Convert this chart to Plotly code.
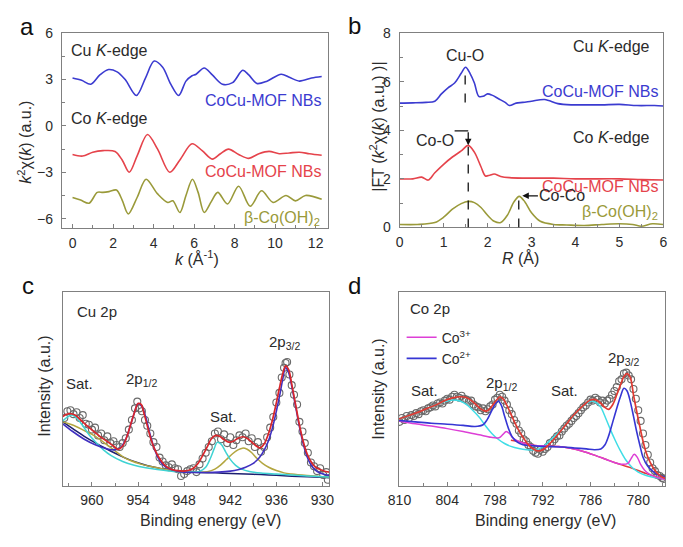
import plotly.graph_objects as go

W, H = 683, 547
FONT = "Arial, 'Liberation Sans', sans-serif"
TXT = "#2b2b2b"

# ---------------- Panel a : k^2 chi(k) ----------------
k_cu = [0, 0.45, 0.9, 1.35, 1.78, 2.2, 2.6, 3.15, 3.6, 4.03, 4.45, 4.85, 5.24, 5.6, 5.9, 6.1, 6.5, 6.9, 7.4, 7.9,
        8.4, 8.7, 9.1, 9.6, 10.3, 10.7, 11.2, 11.8, 12.3]
chi_cu = [3.1, 2.95, 2.7, 3.3, 3.65, 3.5, 3.0, 1.97, 3.1, 4.2, 3.8, 2.7, 1.97, 2.9, 3.25, 3.35, 3.75, 3.3, 2.7, 2.8,
          3.6, 3.3, 2.75, 2.9, 3.35, 3.15, 2.9, 3.1, 3.2]
k_co = [0, 0.5, 1.0, 1.5, 2.1, 2.45, 2.8, 3.2, 3.7, 4.2, 4.8, 5.3, 5.9, 6.4, 6.9, 7.3, 7.7, 8.2, 8.7, 9.2, 9.7,
        10.2, 10.7, 11.2, 11.7, 12.3]
chi_co = [-1.85, -1.95, -1.7, -1.6, -1.65, -2.2, -3.0, -1.9, -0.55, -1.5, -3.0, -2.2, -1.15, -1.6, -2.15, -1.8,
          -1.5, -1.85, -2.1, -1.8, -1.65, -1.8, -1.75, -1.7, -1.8, -1.9]
k_oh = [0, 0.4, 0.82, 1.22, 1.5, 1.8, 2.17, 2.45, 2.75, 3.2, 3.63, 4.2, 4.7, 4.95, 5.3, 5.6, 5.92, 6.2, 6.5, 6.85,
        7.17, 7.65, 8.2, 8.77, 9.33, 9.9, 10.54, 11.0, 11.5, 12.3]
chi_oh = [-4.63, -4.8, -5.0, -4.3, -4.3, -4.25, -4.15, -4.8, -5.7, -4.6, -3.45, -4.4, -4.95, -4.85, -5.6, -4.5,
          -3.45, -4.3, -5.6, -4.9, -4.3, -5.05, -3.9, -5.2, -4.2, -4.95, -4.5, -4.85, -4.5, -4.75]

# ---------------- Panel b : |FT| ----------------
r_cu = [0, 0.3, 0.6, 0.8, 0.95, 1.1, 1.25, 1.4, 1.5, 1.6, 1.7, 1.8, 1.9, 2.0, 2.1, 2.25, 2.4, 2.5, 2.65, 2.8,
        3.0, 3.3, 3.6, 3.9, 4.2, 4.6, 5.0, 5.4, 5.8, 6.0]
ft_cu = [5.12, 5.13, 5.15, 5.2, 5.5, 5.75, 5.95, 6.35, 6.6, 6.35, 5.95, 5.4, 5.4, 5.5, 5.45, 5.3, 5.15, 5.02,
         5.12, 5.15, 5.2, 5.27, 5.1, 5.05, 5.05, 5.05, 5.07, 5.02, 5.02, 5.0]
r_co = [0, 0.3, 0.5, 0.65, 0.8, 1.0, 1.2, 1.4, 1.56, 1.7, 1.85, 1.95, 2.05, 2.15, 2.3, 2.5, 2.8, 3.5, 4.0, 5.0,
        5.5, 6.0]
ft_co = [2.0, 2.0, 2.07, 1.95, 2.25, 2.6, 2.9, 3.15, 3.38, 3.1, 2.5, 2.12, 2.15, 2.2, 2.1, 2.05, 2.03, 2.03, 2.0,
         2.0, 1.97, 1.95]
r_oh = [0, 0.4, 0.8, 1.0, 1.2, 1.4, 1.56, 1.7, 1.85, 2.0, 2.15, 2.3, 2.45, 2.6, 2.72, 2.85, 3.0, 3.2, 3.5, 3.8,
        4.2, 4.6, 5.0, 5.3, 5.5, 5.75, 6.0]
ft_oh = [0.12, 0.12, 0.2, 0.42, 0.75, 0.98, 1.07, 1.02, 0.82, 0.5, 0.25, 0.2, 0.5, 1.05, 1.28, 1.05, 0.6, 0.25,
         0.12, 0.1, 0.08, 0.12, 0.15, 0.12, 0.05, 0.15, 0.12]
peak_r = [1.49, 1.56, 2.71]
peak_top = [6.55, 3.32, 1.2]
peak_bottom = [5.15, 0.0, 0.0]

# ---------------- Panel c : Cu 2p XPS ----------------
c_data_e = [963.6, 963.2, 962.8, 962.4, 962.0, 961.6, 961.2, 960.8, 960.4, 960.0, 959.6, 959.2, 958.8, 958.4,
            958.0, 957.6, 957.2, 956.8, 956.4, 956.0, 955.6, 955.2, 954.8, 954.4, 954.1, 953.8, 953.5, 953.1,
            952.8, 952.4, 952.0, 951.6, 951.2, 950.8, 950.4, 950.0, 949.6, 949.2, 948.8, 948.4, 948.0, 947.6,
            947.2, 946.8, 946.4, 946.0, 945.6, 945.2, 944.8, 944.4, 944.0, 943.6, 943.2, 942.8, 942.4, 942.0,
            941.6, 941.2, 940.8, 940.4, 940.0, 939.6, 939.2, 938.8, 938.4, 938.0, 937.6, 937.2, 936.8, 936.4,
            936.0, 935.6, 935.3, 935.0, 934.8, 934.6, 934.3, 934.0, 933.7, 933.3, 933.0, 932.6, 932.3, 931.9,
            931.5, 931.1, 930.7, 930.3, 929.9, 929.5, 929.3]
c_data_i = [35, 38.5, 39, 37, 38, 35, 36.5, 32, 31.5, 29, 30, 26, 27, 23.5, 25.5, 22, 23, 21, 20, 22, 24.5, 29,
            34, 40, 43.5, 40, 38.5, 34, 31, 27, 22.5, 20, 14.5, 12.5, 10.5, 9.5, 11, 9, 8.5, 5, 6, 7.5, 8.5, 9,
            7, 11, 14, 17, 20, 23, 27, 28, 24, 26.5, 22, 25, 21, 23.5, 26, 25, 27, 23, 24.5, 20, 22.5, 17.5, 20,
            25, 30, 35.5, 43, 48, 56, 61, 63.5, 64, 57.5, 52, 47, 42, 33, 28, 22, 17, 12, 10, 7.5, 9, 5.5, 7, 3]
c_env_e = [963.8, 963.1, 962.2, 961.4, 960.5, 959.7, 958.8, 958.0, 957.2, 956.6, 956.0, 955.4, 954.9, 954.5,
           954.0, 953.6, 953.2, 952.7, 952.3, 951.8, 951.2, 950.5, 949.7, 948.5, 947.5, 946.8, 946.2, 945.6,
           945.0, 944.5, 943.9, 943.4, 942.8, 942.2, 941.6, 941.0, 940.4, 939.8, 939.2, 938.6, 938.1, 937.6,
           937.1, 936.6, 936.1, 935.6, 935.2, 934.8, 934.4, 934.0, 933.5, 933.0, 932.5, 932.0, 931.5, 931.0,
           930.3, 929.6, 929.1]
c_env_i = [35.8, 37.2, 36.5, 33.7, 30.5, 27.8, 25.0, 22.8, 20.5, 18.8, 20.5, 26.0, 32.5, 37.5, 42.5, 42.0, 37.0,
           29.5, 23.7, 18.5, 14.0, 10.5, 8.5, 7.6, 7.8, 9.0, 11.5, 15.5, 20.0, 24.0, 26.0, 25.5, 23.8, 22.5, 23.0,
           24.5, 25.3, 24.5, 22.5, 20.5, 19.5, 21.5, 26.0, 32.5, 41.0, 50.5, 57.5, 62.0, 60.0, 52.5, 42.0, 31.5,
           22.8, 16.5, 12.5, 10.0, 8.3, 7.3, 7.0]
c_2p_e = [963.8, 962.5, 961, 959.5, 958.0, 957.0, 956.3, 955.6, 955.0, 954.5, 954.0, 953.5, 953.0, 952.5, 952.0,
          951.4, 950.8, 950.0, 949.0, 948.0, 946.5, 945.0, 943.5, 942.0, 941.0, 940.0, 939.0, 938.2, 937.5,
          937.0, 936.5, 936.0, 935.5, 935.2, 934.8, 934.4, 934.0, 933.5, 933.0, 932.5, 932.0, 931.5, 931.0,
          930.3, 929.6, 929.1]
c_2p_i = [32, 28, 24, 21, 19, 18.5, 19.5, 24, 31, 37.5, 42.5, 41.0, 35.5, 27.5, 20.5, 14.5, 11.0, 8.8, 7.6, 7.0,
          6.8, 6.8, 7.0, 7.5, 8.2, 9.5, 11.5, 14.5, 19.0, 23.5, 30.0, 38.5, 48.0, 54.5, 61.0, 58.5, 51.5, 41.0,
          30.5, 21.5, 15.0, 10.8, 8.3, 6.5, 5.6, 5.2]
c_bg_e = [963.8, 962.5, 961, 959.5, 958, 956.5, 955, 953.5, 952, 950.5, 949, 947.5, 946, 944, 942, 940, 938, 936,
          934, 932, 930, 929.1]
c_bg_i = [33, 29.5, 25.5, 22, 18.8, 15.8, 13.2, 11.2, 9.6, 8.4, 7.6, 7.1, 6.8, 6.6, 6.3, 6.0, 5.7, 5.3, 4.9, 4.6,
          4.3, 4.1]
c_sat1_e = [963.8, 963.2, 962.6, 962.0, 961.2, 960.4, 959.5, 958.5, 957.5, 956, 954.5, 953, 951.5, 950, 948.5,
            947, 946, 945.2, 944.6, 944.1, 943.7, 943.2, 942.6, 942.0, 941.3, 940.5, 939.5, 938, 936, 934, 932,
            930, 929.1]
c_sat1_i = [33.5, 35.5, 36.5, 35, 31, 26.5, 22.5, 18.5, 15.5, 12.5, 10.5, 9.2, 8.3, 7.6, 7.2, 7.0, 7.3, 9.5, 14,
            19, 22.4, 21.5, 17.5, 13.6, 10.5, 8.5, 7.3, 6.5, 6.0, 5.5, 5.0, 4.6, 4.5]
c_sat2_e = [963.8, 963, 962, 961, 960, 959, 958, 957, 956, 955, 953.5, 952, 950.5, 949, 947.5, 946, 945, 944,
            943.3, 942.5, 941.7, 941, 940.4, 939.8, 939.2, 938.5, 937.8, 937, 936, 935, 934, 932, 930, 929.1]
c_sat2_i = [33, 32, 30.5, 28.5, 26.5, 24.0, 21.0, 18.0, 15.0, 13.0, 11.0, 9.6, 8.4, 7.6, 7.1, 6.9, 7.2, 8.5,
            10.5, 13.5, 16.5, 18.5, 19.4, 18.8, 17, 14, 11.5, 9.5, 7.8, 6.6, 6.0, 5.2, 4.6, 4.4]

# ---------------- Panel d : Co 2p XPS ----------------
d_data_e = [810.0, 809.7, 809.4, 809.1, 808.8, 808.5, 808.2, 807.9, 807.6, 807.3, 807.0, 806.7, 806.4, 806.1,
            805.8, 805.5, 805.2, 804.9, 804.6, 804.3, 804.0, 803.7, 803.4, 803.1, 802.8, 802.5, 802.2, 801.9,
            801.6, 801.3, 801.0, 800.7, 800.4, 800.1, 799.8, 799.5, 799.2, 798.9, 798.6, 798.3, 798.0, 797.7,
            797.4, 797.1, 796.8, 796.5, 796.2, 795.9, 795.6, 795.3, 795.0, 794.7, 794.4, 794.1, 793.8, 793.5,
            793.2, 792.9, 792.6, 792.3, 792.0, 791.7, 791.4, 791.1, 790.8, 790.5, 790.2, 789.9, 789.6, 789.3,
            789.0, 788.7, 788.4, 788.1, 787.8, 787.5, 787.2, 786.9, 786.6, 786.3, 786.0, 785.7, 785.4, 785.1,
            784.8, 784.5, 784.2, 783.9, 783.6, 783.3, 783.0, 782.7, 782.4, 782.1, 781.8, 781.5, 781.2, 780.9,
            780.6, 780.3, 780.0, 779.7, 779.4, 779.1, 778.8, 778.5, 778.2, 777.9, 777.6, 777.3, 777.0, 776.8]
d_data_i = [33, 35, 34, 36, 35, 36.5, 36, 37.5, 37, 38.5, 39, 38.5, 40, 40.5, 41.5, 41, 42.5, 43, 42.5, 44, 45,
            44.5, 46, 47, 46, 45.5, 46.5, 45, 44.5, 43.5, 44, 42, 41, 40.5, 39, 40, 38.5, 39.5, 41, 42, 44.5,
            45.5, 47, 46, 44, 42, 39, 37, 34, 32, 28.5, 27, 24, 23, 21, 20, 18, 17, 16.5, 18.5, 17.5, 19, 20, 22,
            22.5, 24, 25.5, 26, 28, 29.5, 31, 32, 33.5, 35, 36, 37.5, 39, 40.5, 41.5, 43, 44.5, 44, 45.5, 44.5,
            43, 44, 42.5, 44, 45, 47, 49, 51, 54, 55, 58, 58.5, 57, 55, 50, 45, 39, 33.5, 27, 21, 16, 12, 9, 7.5,
            5.5, 5, 4, 3.5]
d_env_e = [810.1, 809, 807.8, 806.5, 805.3, 804.3, 803.3, 802.4, 801.6, 800.8, 800.0, 799.4, 799.0, 798.5, 797.9,
           797.4, 797.0, 796.5, 796.0, 795.5, 795.0, 794.4, 793.8, 793.2, 792.6, 792.0, 791.4, 790.6, 789.8,
           789.0, 788.2, 787.4, 786.6, 786.0, 785.4, 784.8, 784.2, 783.7, 783.2, 782.7, 782.2, 781.8, 781.4,
           781.0, 780.6, 780.2, 779.8, 779.4, 779.0, 778.5, 778.0, 777.5, 777.0, 776.6]
d_env_i = [34.5, 36.0, 37.8, 40.0, 42.0, 44.0, 45.4, 46.0, 45.6, 43.5, 40.4, 38.8, 38.7, 40.5, 43.8, 46.0, 45.0,
           41.5, 37.0, 32.5, 28.5, 24.5, 21.1, 19.0, 18.0, 18.5, 20.5, 24.0, 28.0, 32.0, 36.0, 39.5, 42.5, 44.3,
           44.5, 43.0, 40.5, 39.5, 42.0, 47.0, 52.5, 56.5, 58.0, 56.0, 47.0, 38.5, 30.5, 23.0, 17.0, 12.0, 8.5,
           6.0, 4.5, 3.8]
d_co2_e = [810.1, 808, 806, 804, 802, 800.5, 799.5, 799.0, 798.5, 798.0, 797.6, 797.2, 796.8, 796.3, 795.8,
           795.2, 794.5, 793.5, 792.5, 791, 789.5, 788, 786.5, 785.5, 784.7, 784.2, 783.7, 783.2, 782.7, 782.2,
           781.8, 781.4, 781.0, 780.6, 780.2, 779.8, 779.4, 778.8, 778.2, 777.5, 776.6]
d_co2_i = [33.7, 33, 32.3, 31.8, 31.2, 30.6, 31.5, 34, 38, 42, 43.8, 41.5, 36, 29.5, 25, 22.5, 21.2, 20.7, 20.4,
           20.2, 20.0, 19.5, 19.0, 18.6, 19.0, 21, 26, 33, 40, 46.5, 50.4, 49, 43.5, 36, 28, 21, 14.7, 10, 7.5,
           5.5, 4.5]
d_co3_e = [810.1, 808, 806, 804, 802, 800, 798.5, 797.5, 797, 796.6, 796.2, 795.7, 795, 794, 793, 791.5, 790,
           788.5, 787, 785.5, 784, 783, 782, 781.3, 780.9, 780.5, 780.1, 779.7, 779.2, 778.6, 778, 777.3, 776.6]
d_co3_i = [33.5, 32, 30.8, 29.5, 28, 26.3, 25, 24.8, 26.5, 28, 27, 24.5, 22.8, 21.5, 20.8, 20.5, 20.2, 19.3,
           17.8, 15.8, 13.5, 12, 11, 11.5, 14, 16.2, 14.5, 11, 8, 6, 4.8, 3.8, 3.2]
d_bg_e = [796.0, 795, 794, 793, 791.5, 790, 788.5, 787, 785.5, 784, 783, 782, 781, 780, 779, 778, 777, 776.6]
d_bg_i = [23.5, 22.8, 21.5, 20.8, 20.5, 20.2, 19.3, 17.8, 15.8, 13.5, 12, 10.6, 9.3, 7.8, 6.2, 4.9, 3.8, 3.4]
d_sat_e = [810.1, 809, 807.8, 806.5, 805.3, 804.3, 803.3, 802.4, 801.6, 800.8, 800.0, 799.2, 798.4, 797.6, 796.8,
           796, 795, 794, 793.2, 792.5, 791.7, 790.8, 789.8, 788.8, 787.8, 786.8, 786.0, 785.3, 784.7, 784.1,
           783.5, 782.9, 782.3, 781.6, 780.8, 780, 779, 778, 776.6]
d_sat_i = [34.5, 36, 37.8, 40, 42, 43.5, 44.3, 43.8, 42, 39, 35.5, 31, 27, 24, 21.8, 20.3, 19.2, 18.6, 18.5, 19,
           21, 24.5, 28.5, 33, 37.5, 41.5, 43.7, 43, 40.5, 35, 29, 23.5, 18.5, 13.5, 9.5, 7, 5.2, 4.2, 3.5]


def X(px):
    return px / W


def Y(py):
    return 1 - py / H


fig = go.Figure()


def line(x, y, color, ax, width=1.6, name=None, legend=False, smooth=0.9):
    fig.add_trace(go.Scatter(x=x, y=y, mode="lines", xaxis=ax[0], yaxis=ax[1],
                             line=dict(color=color, width=width, shape="spline", smoothing=smooth),
                             name=name, showlegend=legend, hoverinfo="skip"))


def circles(x, y, ax):
    fig.add_trace(go.Scatter(x=x, y=y, mode="markers", xaxis=ax[0], yaxis=ax[1],
                             marker=dict(symbol="circle-open", size=7, color="#6a6a6a",
                                         line=dict(width=1.1, color="#6a6a6a")),
                             showlegend=False, hoverinfo="skip"))


BLUE, RED, OLIVE = "#3b3bd0", "#e5434b", "#9a9a3a"
A, B, C, D = ("x", "y"), ("x2", "y2"), ("x3", "y3"), ("x4", "y4")

# panel a
line(k_cu, chi_cu, BLUE, A)
line(k_co, chi_co, RED, A)
line(k_oh, chi_oh, OLIVE, A)
# panel b
line(r_cu, ft_cu, BLUE, B)
line(r_co, ft_co, RED, B)
line(r_oh, ft_oh, OLIVE, B)
# panel c
circles(c_data_e, c_data_i, C)
line(c_bg_e, c_bg_i, "#1c1f70", C, 1.5)
line(c_sat2_e, c_sat2_i, "#b3a640", C, 1.5)
line(c_sat1_e, c_sat1_i, "#3fd3d3", C, 1.5)
line(c_2p_e, c_2p_i, "#4030c0", C, 1.6)
line(c_env_e, c_env_i, "#d8262b", C, 1.7)
# panel d
circles(d_data_e, d_data_i, D)
line(d_bg_e, d_bg_i, "#e23a3a", D, 1.5)
line(d_sat_e, d_sat_i, "#40dde6", D, 1.5)
line(d_co3_e, d_co3_i, "#dd3fd6", D, 1.5, name="Co<sup>3+</sup>", legend=True)
line(d_co2_e, d_co2_i, "#3636d4", D, 1.6, name="Co<sup>2+</sup>", legend=True)
line(d_env_e, d_env_i, "#e03a32", D, 1.7)

AXC = "#808080"
tickfont = dict(family=FONT, size=14, color=TXT)


def axis(domain, rng, anchor, dtick=None, minor=None, tick0=None, labels=True, ticks="inside"):
    d = dict(domain=domain, range=rng, anchor=anchor, showline=True, linecolor=AXC, linewidth=1, mirror=True,
             showgrid=False, zeroline=False, ticks=ticks, ticklen=4,
             tickcolor=AXC, tickfont=tickfont, showticklabels=labels, fixedrange=True)
    if dtick is not None:
        d["dtick"] = dtick
        d["tickmode"] = "linear"
    if tick0 is not None:
        d["tick0"] = tick0
    if minor is not None:
        d["minor"] = dict(dtick=minor, ticks="inside", ticklen=3, tickcolor=AXC, showgrid=False)
    return d


layout = dict(
    width=W, height=H, margin=dict(l=0, r=0, t=0, b=0),
    paper_bgcolor="white", plot_bgcolor="white",
    font=dict(family=FONT, size=14, color=TXT),
    xaxis=axis([X(52), X(325)], [-0.53, 12.63], "y", 2, 1, 0),
    yaxis=axis([Y(227), Y(26)], [-6.63, 6], "x", 3, 1.5, 0),
    xaxis2=axis([X(398), X(668)], [0, 6], "y2", 1, 0.5, 0),
    yaxis2=axis([Y(226), Y(26)], [0, 8], "x2", 2, 1, 0),
    xaxis3=axis([X(53), X(326)], [963.8, 929.1], "y3", 6, 3, 960),
    yaxis3=axis([Y(492), Y(293)], [0, 100], "x3", labels=False, ticks=""),
    xaxis4=axis([X(397), X(670)], [810.1, 776.6], "y4", 6, 3, 810),
    yaxis4=axis([Y(492), Y(293)], [0, 100], "x4", labels=False, ticks=""),
    legend=dict(x=X(400), y=Y(323), xanchor="left", yanchor="top", bgcolor="rgba(0,0,0,0)",
                font=dict(family=FONT, size=14, color=TXT), tracegroupgap=0, itemwidth=30),
    showlegend=True,
)
for ax in ["yaxis", "yaxis2"]:
    layout[ax]["ticklabelstandoff"] = 5
for ax in ["xaxis", "xaxis2", "xaxis3", "xaxis4"]:
    layout[ax]["ticklabelstandoff"] = 2
fig.update_layout(**layout)

ann = []


def t(text, x, y, xref, yref, size=16, color=TXT, xanchor="center", yanchor="middle", angle=0):
    ann.append(dict(text=text, x=x, y=y, xref=xref, yref=yref, showarrow=False, xanchor=xanchor,
                    yanchor=yanchor, textangle=angle, font=dict(family=FONT, size=size, color=color)))


# panel letters
t("a", X(16), Y(19), "paper", "paper", 24, "#111")
t("b", X(352), Y(18), "paper", "paper", 24, "#111")
t("c", X(17), Y(286), "paper", "paper", 24, "#111")
t("d", X(352), Y(286), "paper", "paper", 24, "#111")

# axis titles
t("<i>k</i> (Å<sup>-1</sup>)", X(190), Y(258), "paper", "paper", 16)
t("<i>k</i><sup>2</sup>χ(<i>k</i>) (a.u.)", X(14), Y(138), "paper", "paper", 16, angle=-90)
t("<i>R</i> (Å)", X(522), Y(258), "paper", "paper", 16)
t("|FT (<i>k</i><sup>2</sup>χ(<i>k</i>) (a.u.) )|", X(375), Y(122), "paper", "paper", 16, angle=-90)
t("Binding energy (eV)", X(204), Y(528), "paper", "paper", 16)
t("Intensity (a.u.)", X(34), Y(390), "paper", "paper", 16, angle=-90)
t("Binding energy (eV)", X(547), Y(528), "paper", "paper", 16)
t("Intensity (a.u.)", X(376), Y(393), "paper", "paper", 16, angle=-90)

# panel a labels
t("Cu <i>K</i>-edge", -0.15, 4.9, "x", "y", xanchor="left")
t("CoCu-MOF NBs", 12.35, 1.65, "x", "y", color=BLUE, xanchor="right")
t("Co <i>K</i>-edge", -0.15, 0.5, "x", "y", xanchor="left")
t("CoCu-MOF NBs", 12.35, -2.95, "x", "y", color=RED, xanchor="right")
t("β-Co(OH)<sub>2</sub>", 12.3, -6.0, "x", "y", color=OLIVE, xanchor="right")

# panel b labels
t("Cu <i>K</i>-edge", 5.75, 7.44, "x2", "y2", xanchor="right")
t("CoCu-MOF NBs", 5.92, 5.6, "x2", "y2", color=BLUE, xanchor="right")
t("Co <i>K</i>-edge", 5.75, 3.71, "x2", "y2", xanchor="right")
t("CoCu-MOF NBs", 5.92, 1.68, "x2", "y2", color=RED, xanchor="right")
t("β-Co(OH)<sub>2</sub>", 5.92, 0.6, "x2", "y2", color=OLIVE, xanchor="right")
t("Cu-O", peak_r[0], 7.1, "x2", "y2")
t("Co-O", 0.8, 3.58, "x2", "y2")
t("Co-Co", 3.7, 1.3, "x2", "y2")

# panel c labels
t("Cu 2p", X(88), Y(313), "paper", "paper", 15)
t("Sat.", 961.6, 53, "x3", "y3", 15)
t("2p<sub>1/2</sub>", 953.6, 55, "x3", "y3", 15)
t("Sat.", 942.9, 36, "x3", "y3", 15)
t("2p<sub>3/2</sub>", 935.0, 74, "x3", "y3", 15)

# panel d labels
t("Co 2p", X(407), Y(310), "paper", "paper", 15, xanchor="left")
t("Sat.", 806.8, 49, "x4", "y4", 15)
t("2p<sub>1/2</sub>", 797.2, 53, "x4", "y4", 15)
t("Sat.", 789.3, 49, "x4", "y4", 15)
t("2p<sub>3/2</sub>", 781.8, 66, "x4", "y4", 15)

# arrows in panel b
ann.append(dict(x=peak_r[1], y=3.38, ax=peak_r[1], ay=3.98, xref="x2", yref="y2", axref="x2", ayref="y2",
                showarrow=True, arrowhead=2, arrowsize=1, arrowwidth=1.3, arrowcolor="#111", text=""))
ann.append(dict(x=peak_r[2] + 0.08, y=1.3, ax=3.18, ay=1.3, xref="x2", yref="y2", axref="x2", ayref="y2",
                showarrow=True, arrowhead=2, arrowsize=1, arrowwidth=1.3, arrowcolor="#111", text=""))
fig.update_layout(annotations=ann)

shapes = []
for r, top, bot in zip(peak_r, peak_top, peak_bottom):
    shapes.append(dict(type="line", x0=r, x1=r, y0=bot, y1=top, xref="x2", yref="y2",
                       line=dict(color="#111", width=1.3, dash="dash")))
shapes.append(dict(type="line", x0=1.25, x1=peak_r[1], y0=3.98, y1=3.98, xref="x2", yref="y2",
                   line=dict(color="#111", width=1.3)))
fig.update_layout(shapes=shapes)

fig.write_html("out.html", config={"displayModeBar": False},
               post_script="document.body.style.margin='0';document.body.style.padding='0';")
